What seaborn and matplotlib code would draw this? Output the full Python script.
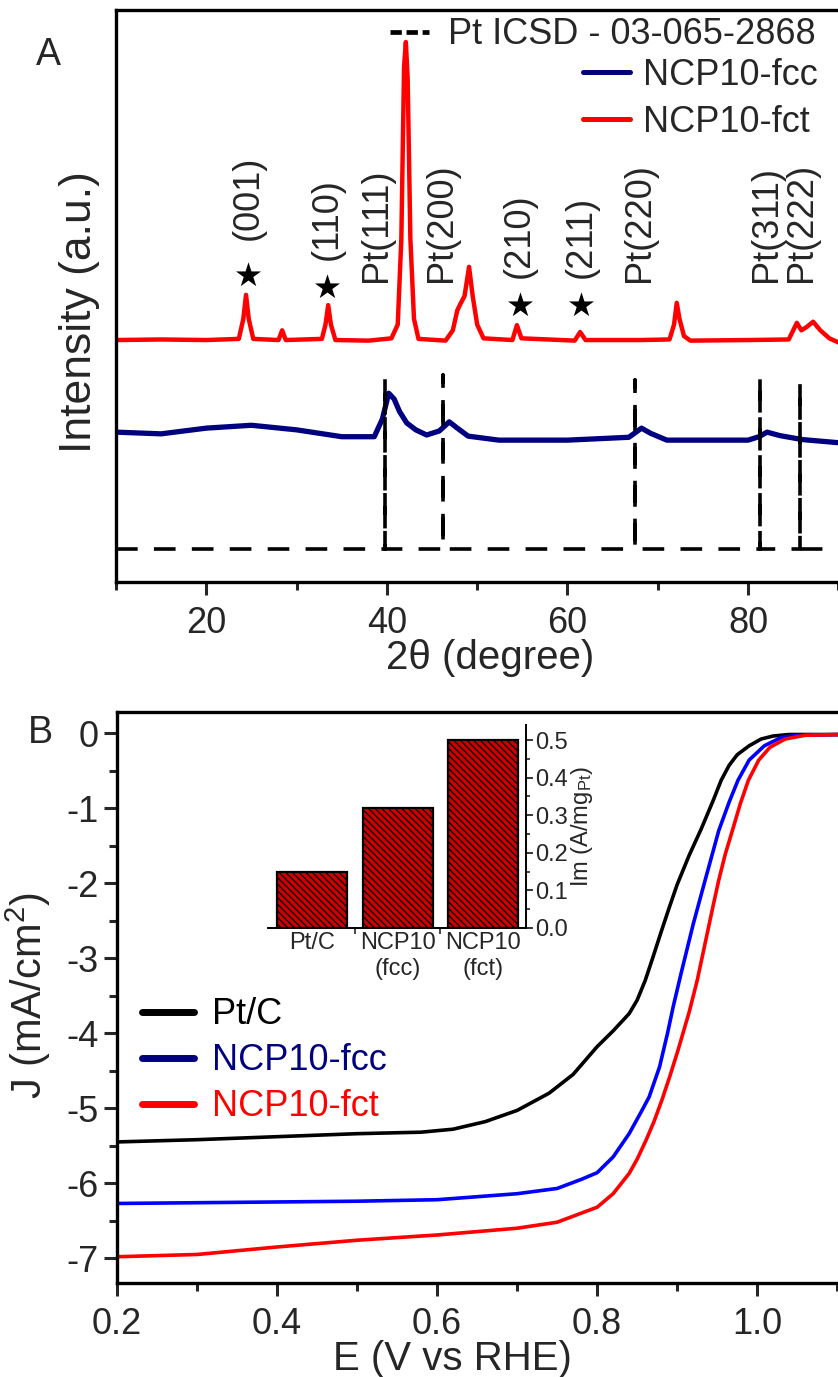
import matplotlib
matplotlib.use("Agg")
import matplotlib.pyplot as plt
from matplotlib.lines import Line2D
from matplotlib.ticker import MultipleLocator, FixedLocator, FormatStrFormatter
import seaborn as sns

sns.set_theme(style="ticks")
plt.rcParams['font.family'] = ['Liberation Sans', 'DejaVu Sans']
plt.rcParams['mathtext.fontset'] = 'custom'
plt.rcParams['mathtext.rm'] = 'Liberation Sans'
plt.rcParams['mathtext.it'] = 'Liberation Sans:italic'
plt.rcParams['axes.unicode_minus'] = False
plt.rcParams['hatch.linewidth'] = 0.9
plt.rcParams['hatch.color'] = 'black'

# ---------------- Panel A : XRD ----------------
tt_fct = [10, 15, 20, 23.6, 24.1, 24.4, 24.7, 25.2, 28.0, 28.4, 28.8, 32.8, 33.2, 33.5,
          33.8, 34.3, 38, 40.5, 41.2, 41.6, 41.9, 42.1, 42.3, 42.6, 43.0, 43.5, 46.5,
          47.3, 47.8, 48.2, 48.6, 49.1, 49.5, 50.0, 50.7, 53.9, 54.4, 54.9, 60.8, 61.4,
          62.0, 68, 71.3, 71.8, 72.1, 72.4, 72.9, 73.6, 80, 84.5, 85.4, 85.9, 86.5,
          87.2, 88.0, 89.0, 90.4]
int_fct = [42.3, 42.4, 42.3, 42.5, 46.0, 50.2, 46.0, 42.5, 42.3, 44.0, 42.3, 42.5, 45.0, 48.4,
           45.0, 42.3, 42.2, 42.6, 45.0, 60.0, 90.0, 94.4, 88.0, 60.0, 46.0, 42.5, 42.2,
           44.0, 47.5, 48.8, 50.0, 55.1, 50.0, 45.0, 42.6, 42.3, 44.9, 42.6, 42.2, 43.7,
           42.3, 42.3, 42.4, 45.0, 48.8, 46.0, 43.0, 42.2, 42.3, 42.4, 45.3, 44.0, 44.6,
           45.5, 44.0, 42.6, 41.6]

tt_fcc = [10, 15, 20, 25, 30, 35, 38.6, 39.5, 40.2, 40.8, 41.4, 42.2, 43.2, 44.4, 45.8,
          46.9, 47.8, 49.0, 52.4, 60, 66.8, 68.2, 69.2, 71, 80, 81.2, 82.1, 83.5, 86, 90.4]
int_fcc = [26.2, 25.9, 26.9, 27.4, 26.6, 25.4, 25.4, 28.5, 33.0, 32.0, 29.8, 27.8, 26.6, 25.7, 26.4,
           28.0, 26.9, 25.5, 24.8, 24.8, 25.3, 26.9, 26.0, 24.8, 24.8, 25.4, 26.2, 25.6, 24.9, 24.3]

pt_ref_pos = [39.76, 46.24, 67.45, 81.28, 85.71]
pt_ref_int = [35.7, 36.2, 35.3, 35.8, 34.8]
ref_base = 5.8

fct_hkl = ["(001)", "(110)", "(210)", "(211)"]
fct_hkl_x = [24.6, 33.4, 54.7, 61.5]
fct_star_y = [53.7, 51.6, 48.4, 48.4]
fct_text_y = [59.8, 56.3, 53.1, 53.1]
pt_hkl = ["Pt(111)", "Pt(200)", "Pt(220)", "Pt(311)", "Pt(222)"]
pt_hkl_x = [38.9, 46.1, 67.95, 82.0, 85.9]
pt_text_y = 52.4

# ---------------- Panel B : ORR polarisation ----------------
E_ptc = [0.20, 0.30, 0.40, 0.50, 0.58, 0.62, 0.66, 0.70, 0.74, 0.77, 0.80, 0.82, 0.84, 0.85,
         0.86, 0.87, 0.88, 0.89, 0.90, 0.915, 0.93, 0.945, 0.955, 0.965, 0.975, 0.99, 1.005,
         1.02, 1.04, 1.106]
J_ptc = [-5.45, -5.42, -5.38, -5.34, -5.32, -5.28, -5.18, -5.03, -4.80, -4.55, -4.18, -3.97,
         -3.74, -3.56, -3.30, -2.98, -2.65, -2.33, -2.02, -1.63, -1.28, -0.90, -0.63, -0.43,
         -0.29, -0.17, -0.08, -0.04, -0.02, -0.02]
E_fcc = [0.20, 0.30, 0.40, 0.50, 0.60, 0.70, 0.75, 0.78, 0.80, 0.82, 0.84, 0.855, 0.865,
         0.878, 0.888, 0.895, 0.905, 0.92, 0.935, 0.952, 0.965, 0.976, 0.99, 1.009, 1.03,
         1.05, 1.106]
J_fcc = [-6.27, -6.26, -6.25, -6.24, -6.22, -6.14, -6.07, -5.95, -5.86, -5.65, -5.34, -5.05,
         -4.85, -4.45, -4.0, -3.65, -3.2, -2.55, -1.96, -1.3, -0.92, -0.63, -0.36, -0.17,
         -0.06, -0.03, -0.02]
E_fct = [0.20, 0.30, 0.40, 0.50, 0.60, 0.70, 0.75, 0.80, 0.82, 0.84, 0.85, 0.861, 0.871,
         0.881, 0.891, 0.901, 0.915, 0.925, 0.935, 0.945, 0.952, 0.96, 0.969, 0.979, 0.989,
         1.002, 1.016, 1.035, 1.06, 1.106]
J_fct = [-6.98, -6.95, -6.85, -6.76, -6.69, -6.60, -6.52, -6.32, -6.14, -5.87, -5.68, -5.43,
         -5.18, -4.89, -4.57, -4.23, -3.72, -3.30, -2.80, -2.30, -1.96, -1.62, -1.30, -0.94,
         -0.63, -0.36, -0.19, -0.08, -0.03, -0.02]

inset_cats = ["Pt/C", "NCP10\n(fcc)", "NCP10\n(fct)"]
inset_im = [0.15, 0.32, 0.50]

RED = "#FF0000"
NAVY = "#000080"
BLUE = "#0000FF"

W, H = 838, 1377
fig = plt.figure(figsize=(W / 100, H / 100), dpi=100)


def px_axes(l, t, r, b):
    return fig.add_axes([l / W, 1 - b / H, (r - l) / W, (b - t) / H])


def style_spines(ax, lw=2.4):
    for s in ax.spines.values():
        s.set_linewidth(lw)
        s.set_color("black")


# ---- A ----
axA = px_axes(116, 10, 842, 582)
sns.lineplot(x=tt_fct, y=int_fct, ax=axA, color=RED, linewidth=3.2, sort=False, estimator=None)
sns.lineplot(x=tt_fcc, y=int_fcc, ax=axA, color=NAVY, linewidth=3.8, sort=False, estimator=None)

ref_x, ref_y = [10], [ref_base]
for p, h in zip(pt_ref_pos, pt_ref_int):
    ref_x += [p, p, p]
    ref_y += [ref_base, h, ref_base]
ref_x.append(90.4)
ref_y.append(ref_base)
axA.plot(ref_x, ref_y, color="black", linewidth=2.6, dashes=(6, 4.5))

axA.scatter(fct_hkl_x, fct_star_y, marker="*", s=360, color="black", zorder=5, linewidths=0)
for lab, x, y in zip(fct_hkl, fct_hkl_x, fct_text_y):
    axA.text(x, y, lab, rotation=90, ha="center", va="bottom", fontsize=26)
for lab, x in zip(pt_hkl, pt_hkl_x):
    axA.text(x, pt_text_y, lab, rotation=90, ha="center", va="bottom", fontsize=26)

axA.set_xlim(10, 90.4)
axA.set_ylim(0, 100)
axA.set_yticks([])
axA.xaxis.set_major_locator(FixedLocator([20, 40, 60, 80]))
axA.xaxis.set_minor_locator(FixedLocator([10, 30, 50, 70, 90]))
axA.tick_params(axis="x", which="major", direction="out", length=9.5, width=2.2,
                labelsize=26, pad=8, top=False)
axA.tick_params(axis="x", which="minor", direction="out", length=5.5, width=2.2, top=False)
axA.set_xlabel("2θ (degree)", fontsize=29)
axA.xaxis.set_label_coords(0.515, -0.1)
axA.set_ylabel("Intensity (a.u.)", fontsize=32)
axA.yaxis.set_label_coords(-0.022, 0.472)
style_spines(axA)

legA1 = axA.legend(handles=[Line2D([], [], color="black", lw=3.4, dashes=(2.4, 1.0))],
                   labels=["Pt ICSD - 03-065-2868"], loc="upper right",
                   bbox_to_anchor=(0.963, 0.987), frameon=False, fontsize=26,
                   handlelength=1.1, handletextpad=0.5, borderpad=0, borderaxespad=0)
axA.add_artist(legA1)
axA.legend(handles=[Line2D([], [], color=NAVY, lw=3.6), Line2D([], [], color=RED, lw=3.6)],
           labels=["NCP10-fcc", "NCP10-fct"], loc="upper right",
           bbox_to_anchor=(0.966, 0.916), frameon=False, fontsize=26,
           handlelength=1.3, handletextpad=0.36, labelspacing=0.32,
           borderpad=0, borderaxespad=0)

# ---- B ----
axB = px_axes(117, 712, 842, 1283)
sns.lineplot(x=E_ptc, y=J_ptc, ax=axB, color="black", linewidth=2.6, sort=False, estimator=None)
sns.lineplot(x=E_fcc, y=J_fcc, ax=axB, color=BLUE, linewidth=2.6, sort=False, estimator=None)
sns.lineplot(x=E_fct, y=J_fct, ax=axB, color=RED, linewidth=2.6, sort=False, estimator=None)

axB.set_xlim(0.2, 1.106)
axB.set_ylim(-7.33, 0.28)
axB.xaxis.set_major_locator(FixedLocator([0.2, 0.4, 0.6, 0.8, 1.0]))
axB.xaxis.set_major_formatter(FormatStrFormatter("%.1f"))
axB.xaxis.set_minor_locator(FixedLocator([0.3, 0.5, 0.7, 0.9, 1.1]))
axB.yaxis.set_major_locator(MultipleLocator(1))
axB.yaxis.set_minor_locator(MultipleLocator(0.5))
axB.yaxis.set_major_formatter(FormatStrFormatter("%d"))
axB.tick_params(which="major", direction="out", length=9.5, width=2.2, labelsize=26,
                top=False, right=False)
axB.tick_params(which="minor", direction="out", length=5.5, width=2.2, top=False, right=False)
axB.tick_params(axis="x", pad=8)
axB.tick_params(axis="y", pad=4)
axB.set_xlabel("E (V vs RHE)", fontsize=29)
axB.xaxis.set_label_coords(0.462, -0.1)
axB.set_ylabel("J (mA/cm$^2$)", fontsize=30)
axB.yaxis.set_label_coords(-0.088, 0.504)
style_spines(axB)

legB = axB.legend(handles=[Line2D([], [], color="black", lw=5),
                           Line2D([], [], color=NAVY, lw=5),
                           Line2D([], [], color=RED, lw=5)],
                  labels=["Pt/C", "NCP10-fcc", "NCP10-fct"], loc="upper left",
                  bbox_to_anchor=(0.0345, 0.5), frameon=False, fontsize=26,
                  handlelength=1.45, handletextpad=0.5, labelspacing=0.3,
                  borderpad=0, borderaxespad=0)
for t, c in zip(legB.get_texts(), ["black", NAVY, RED]):
    t.set_color(c)

# ---- inset ----
axI = px_axes(268, 725, 526, 928)
sns.barplot(x=inset_cats, y=inset_im, ax=axI, color="#CC0000", saturation=1,
            width=0.82, edgecolor="black", linewidth=1.6, hatch="\\\\\\\\\\")
axI.set_xlim(-0.515, 2.5)
axI.set_ylim(0, 0.54)
axI.spines["left"].set_visible(False)
axI.spines["top"].set_visible(False)
for s in ["right", "bottom"]:
    axI.spines[s].set_linewidth(1.4)
    axI.spines[s].set_color("black")
axI.yaxis.tick_right()
axI.yaxis.set_label_position("right")
axI.yaxis.set_major_locator(MultipleLocator(0.1))
axI.yaxis.set_minor_locator(MultipleLocator(0.05))
axI.yaxis.set_major_formatter(FormatStrFormatter("%.1f"))
axI.tick_params(axis="y", which="major", direction="out", length=5, width=1.3,
                labelsize=17, pad=1.5, left=False, right=True)
axI.tick_params(axis="y", which="minor", direction="out", length=3, width=1.2,
                left=False, right=True)
axI.xaxis.set_minor_locator(FixedLocator([0.5, 1.5]))
axI.tick_params(axis="x", which="major", length=0, labelsize=17, pad=3)
axI.tick_params(axis="x", which="minor", direction="out", length=4, width=1.2)
axI.set_ylabel("Im (A/mg$_{\\mathrm{Pt}}$)", fontsize=17, labelpad=1)
axI.set_xlabel("")
axI.patch.set_alpha(0)

fig.text(48 / W, 1 - 55 / H, "A", fontsize=27, ha="center", va="center")
fig.text(40 / W, 1 - 733 / H, "B", fontsize=27, ha="center", va="center")

fig.savefig("out.png", dpi=100)
